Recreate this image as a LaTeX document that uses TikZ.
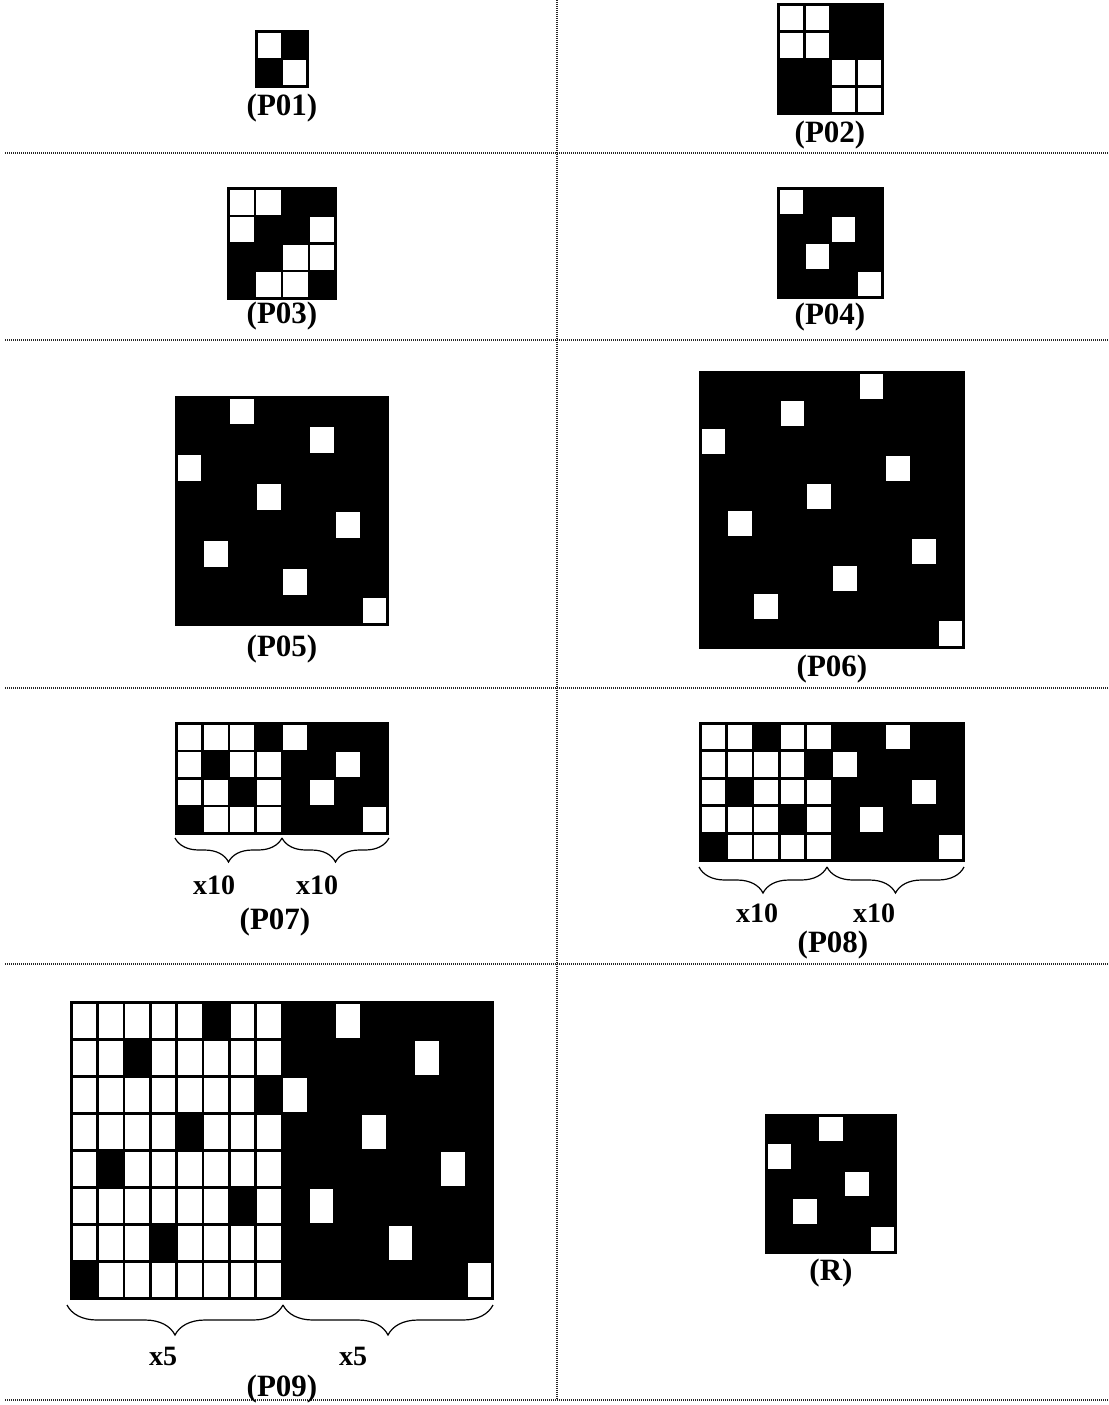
\documentclass[tikz,border=0pt]{standalone}
\usepackage{fontspec}
\setmainfont{Liberation Serif}
\usetikzlibrary{decorations.pathreplacing}
\def\hw{1.3}
\newcommand\setgrid[6]{%
  \fill[black] (#1,#2) rectangle (#3,#4);
  \pgfmathsetmacro\gx{#1+\hw}\pgfmathsetmacro\gy{#2+\hw}%
  \pgfmathsetmacro\gcw{(#3-#1-2*\hw)/#5}\pgfmathsetmacro\gch{(#4-#2-2*\hw)/#6}}
\newcommand\wc[2]{\fill[white] ({\gx+#1*\gcw+\hw},{\gy+#2*\gch+\hw}) rectangle ({\gx+(#1+1)*\gcw-\hw},{\gy+(#2+1)*\gch-\hw});}
\begin{document}
\begin{tikzpicture}[x=0.5pt,y=-0.5pt,
  lbl/.style={font=\fontsize{15.5}{18}\selectfont\bfseries, inner sep=0pt},
  mul/.style={font=\fontsize{14}{16}\selectfont\bfseries, inner sep=0pt},
  sep/.style={draw=black!85, line width=0.55pt, dash pattern=on 0.5pt off 0.5pt},
  brc/.style={decorate, decoration={brace, mirror, amplitude=#1}, line width=0.6pt}]
\useasboundingbox (0,0) rectangle (1109,1405);

% separators
\coordinate (vt) at (557,0); \coordinate (vb) at (557,1400);
\draw[sep] (vt) -- (vb);
\foreach \yy/\nm in {153/h1,340/h2,688/h3,964/h4,1400/h5}{
  \coordinate (\nm l) at (5,\yy); \coordinate (\nm r) at (1109,\yy);
  \draw[sep] (\nm l) -- (\nm r);}

% P01
\setgrid{255}{30}{309}{88}{2}{2}
\foreach \c/\r in {0/0,1/1}{\wc{\c}{\r}}
\node[lbl] (p01) at (282,108) {(P01)};

% P02
\setgrid{777}{3}{884}{115}{4}{4}
\foreach \c/\r in {0/0,1/0,0/1,1/1,2/2,3/2,2/3,3/3}{\wc{\c}{\r}}
\node[lbl] (p02) at (830,135) {(P02)};

% P03
\setgrid{227}{187}{337}{300}{4}{4}
\foreach \c/\r in {0/0,1/0,0/1,3/1,2/2,3/2,1/3,2/3}{\wc{\c}{\r}}
\node[lbl] (p03) at (282,316) {(P03)};

% P04
\setgrid{777}{187}{884}{299}{4}{4}
\foreach \c/\r in {0/0,2/1,1/2,3/3}{\wc{\c}{\r}}
\node[lbl] (p04) at (830,317) {(P04)};

% P05
\setgrid{175}{396}{389}{626}{8}{8}
\foreach \c/\r in {2/0,5/1,0/2,3/3,6/4,1/5,4/6,7/7}{\wc{\c}{\r}}
\node[lbl] (p05) at (282,649) {(P05)};

% P06
\setgrid{699}{371}{965}{649}{10}{10}
\foreach \c/\r in {6/0,3/1,0/2,7/3,4/4,1/5,8/6,5/7,2/8,9/9}{\wc{\c}{\r}}
\node[lbl] (p06) at (832,669) {(P06)};

% P07
\setgrid{175}{722}{389}{835}{8}{4}
\foreach \r/\b in {0/3,1/1,2/2,3/0}{\foreach \c in {0,...,3}{\ifnum\c=\b\relax\else\wc{\c}{\r}\fi}}
\foreach \c/\r in {4/0,6/1,5/2,7/3}{\wc{\c}{\r}}
\coordinate (b7a) at (175,838); \coordinate (b7b) at (282,838); \coordinate (b7c) at (389,838);
\draw[brc=12pt] (b7a) -- (b7b);
\draw[brc=12pt] (b7b) -- (b7c);
\node[mul] (x7a) at (214,885) {x10};
\node[mul] (x7b) at (317,885) {x10};
\node[lbl] (p07) at (275,922) {(P07)};

% P08
\setgrid{699}{722}{965}{862}{10}{5}
\foreach \r/\b in {0/2,1/4,2/1,3/3,4/0}{\foreach \c in {0,...,4}{\ifnum\c=\b\relax\else\wc{\c}{\r}\fi}}
\foreach \c/\r in {7/0,5/1,8/2,6/3,9/4}{\wc{\c}{\r}}
\coordinate (b8a) at (699,867); \coordinate (b8b) at (827,867); \coordinate (b8c) at (964,867);
\draw[brc=13pt] (b8a) -- (b8b);
\draw[brc=13pt] (b8b) -- (b8c);
\node[mul] (x8a) at (757,913) {x10};
\node[mul] (x8b) at (874,913) {x10};
\node[lbl] (p08) at (833,945) {(P08)};

% P09
\setgrid{70}{1001}{494}{1300}{16}{8}
\foreach \r/\b in {0/5,1/2,2/7,3/4,4/1,5/6,6/3,7/0}{\foreach \c in {0,...,7}{\ifnum\c=\b\relax\else\wc{\c}{\r}\fi}}
\foreach \c/\r in {10/0,13/1,8/2,11/3,14/4,9/5,12/6,15/7}{\wc{\c}{\r}}
\coordinate (b9a) at (67,1305); \coordinate (b9b) at (283,1305); \coordinate (b9c) at (493,1305);
\draw[brc=15pt] (b9a) -- (b9b);
\draw[brc=15pt] (b9b) -- (b9c);
\node[mul] (x9a) at (163,1356) {x5};
\node[mul] (x9b) at (353,1356) {x5};
\node[lbl] (p09) at (282,1389) {(P09)};

% R
\setgrid{765}{1114}{897}{1254}{5}{5}
\foreach \c/\r in {2/0,0/1,3/2,1/3,4/4}{\wc{\c}{\r}}
\node[lbl] (rr) at (831,1273) {(R)};
\end{tikzpicture}
\end{document}
